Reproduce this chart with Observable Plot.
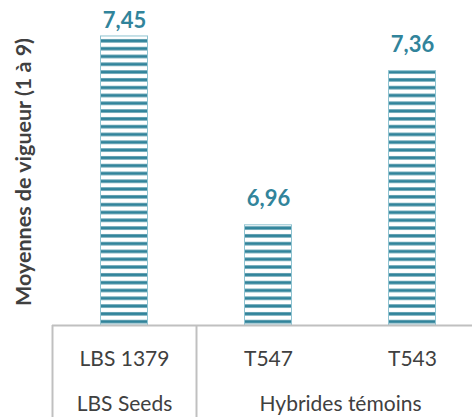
<!DOCTYPE html>
<html>
<head>
<meta charset="utf-8">
<script src="https://cdn.jsdelivr.net/npm/d3@7"></script>
<script src="https://cdn.jsdelivr.net/npm/@observablehq/plot@0.6"></script>
<style>
  html, body { margin: 0; padding: 0; background: #fff; }
  svg { display: block; }
</style>
</head>
<body>
<div id="chart"></div>
<script>
const categories = ["LBS 1379", "T547", "T543"];
const groups = ["LBS Seeds", "Hybrides témoins", "Hybrides témoins"];
const values = [7.45, 6.96, 7.36];
const yTitle = "Moyennes de vigueur (1 à 9)";

const data = categories.map((c, i) => ({cat: c, group: groups[i], value: values[i]}));
const groupList = Array.from(new Set(groups)).map(g => ({
  group: g,
  first: categories[groups.indexOf(g)],
  count: groups.filter(x => x === g).length
}));

const W = 472, H = 417;
const xRange = [52, 484];
const step = (xRange[1] - xRange[0]) / categories.length;
const yMin = 6.7, yMax = 7.5;
const teal = "#31849b";
const gray = "#404040";
const lineGray = "#c0c0c0";
const font = "Lato, 'Open Sans', sans-serif";
// label offset above bar (in value units), kept inside the chart top
const labelOffset = 0.069, labelMax = 7.491;

const plot = Plot.plot({
  width: W,
  height: H,
  marginLeft: 52,
  marginRight: 0,
  marginTop: 0,
  marginBottom: 0,
  style: {fontFamily: font, background: "#fff"},
  x: {type: "band", domain: categories, range: xRange, padding: 0, axis: null},
  y: {domain: [yMin, yMax], range: [325, 16.7], axis: null},
  marks: [
    Plot.barY(data, {x: "cat", y1: yMin, y2: "value", fill: "url(#stripes)", stroke: "#8fc3d1", strokeWidth: 1, insetLeft: 48.5, insetRight: 48.5}),
    Plot.text(data, {x: "cat", y: d => Math.min(d.value + labelOffset, labelMax), text: d => d.value.toFixed(2).replace(".", ","), lineAnchor: "middle", fill: teal, fontWeight: "bold", fontSize: 22}),
    Plot.ruleY([yMin], {stroke: lineGray, strokeWidth: 2}),
    Plot.ruleX(groupList, {x: "first", dx: -step / 2, y1: yMin, y2: 6.3, stroke: lineGray, strokeWidth: 2}),
    Plot.text(data, {x: "cat", text: "cat", frameAnchor: "bottom", lineAnchor: "middle", dy: -58, fill: gray, fontSize: 21}),
    ...groupList.map(g => Plot.text([g], {x: "first", text: "group", frameAnchor: "bottom", lineAnchor: "middle", textAnchor: "middle", dx: (g.count - 1) * step / 2, dy: -13, fill: gray, fontSize: 21})),
    Plot.text([yTitle], {frameAnchor: "left", textAnchor: "middle", lineAnchor: "middle", dx: -28, dy: -37, rotate: -90, fill: gray, fontWeight: "bold", fontSize: 21.5})
  ]
});

const svg = plot.tagName === "svg" ? plot : plot.querySelector("svg");
const ns = "http://www.w3.org/2000/svg";
const defs = document.createElementNS(ns, "defs");
const pat = document.createElementNS(ns, "pattern");
pat.setAttribute("id", "stripes");
pat.setAttribute("patternUnits", "userSpaceOnUse");
pat.setAttribute("width", "10");
pat.setAttribute("height", "7.8");
pat.setAttribute("y", "37");
const bg = document.createElementNS(ns, "rect");
bg.setAttribute("width", "10"); bg.setAttribute("height", "7.8"); bg.setAttribute("fill", "#fff");
const st = document.createElementNS(ns, "rect");
st.setAttribute("y", "2.2"); st.setAttribute("width", "10"); st.setAttribute("height", "3.3"); st.setAttribute("fill", teal);
pat.appendChild(bg); pat.appendChild(st);
defs.appendChild(pat);
svg.insertBefore(defs, svg.firstChild);
document.getElementById("chart").appendChild(plot);
</script>
</body>
</html>
